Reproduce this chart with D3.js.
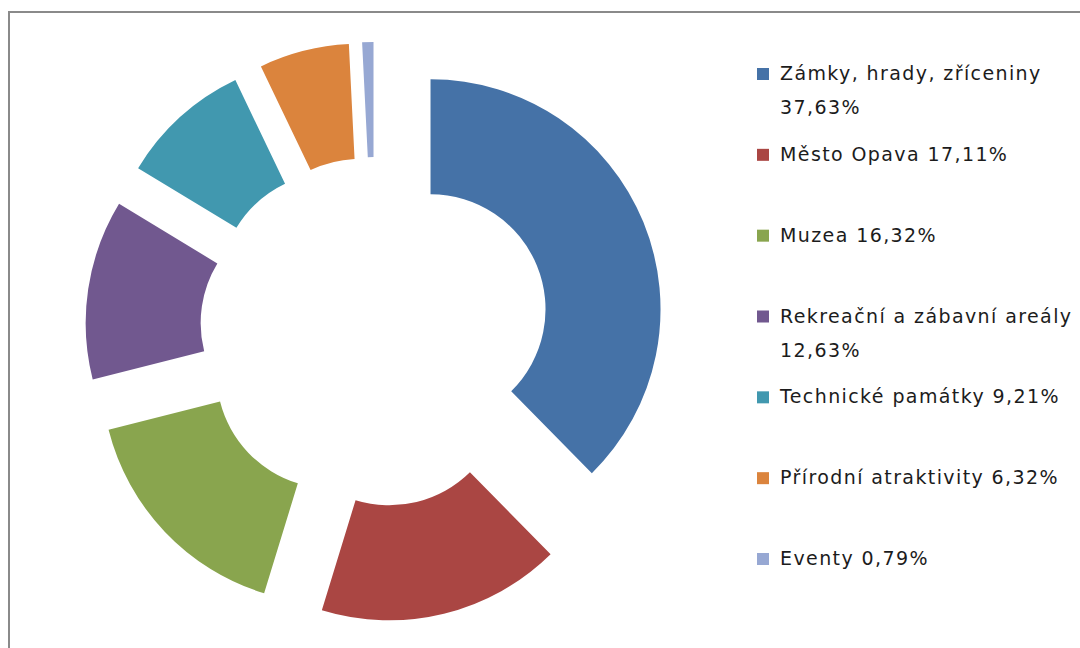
<!DOCTYPE html>
<html>
<head>
<meta charset="utf-8">
<script src="https://cdn.jsdelivr.net/npm/d3@7"></script>
<style>
  html, body { margin: 0; padding: 0; background: #ffffff; }
  svg { display: block; }
</style>
</head>
<body>
<svg id="chart" width="1080" height="648"></svg>
<script>
// Data: share of visited attraction types (percent)
const categories = [
  "Zámky, hrady, zříceniny",
  "Město Opava",
  "Muzea",
  "Rekreační a zábavní areály",
  "Technické památky",
  "Přírodní atraktivity",
  "Eventy"
];
const values = [37.63, 17.11, 16.32, 12.63, 9.21, 6.32, 0.79];
const valueLabels = ["37,63%", "17,11%", "16,32%", "12,63%", "9,21%", "6,32%", "0,79%"];
const colors = ["#4572A7", "#AA4643", "#89A54E", "#71588F", "#4198AF", "#DB843D", "#97A8D3"];

// Layout
const W = 1080, H = 648;
const cx = 375, cy = 332;
const outerR = 230, innerR = 115;
const explode = 60;

const svg = d3.select("#chart");

// chart frame (runs off the right and bottom edges)
svg.append("rect")
  .attr("x", 9).attr("y", 12)
  .attr("width", W + 40).attr("height", H + 40)
  .attr("fill", "#ffffff")
  .attr("stroke", "#8a8a8a")
  .attr("stroke-width", 2);

const pie = d3.pie().sort(null).value(d => d).startAngle(0).endAngle(2 * Math.PI);
const arcs = pie(values);
const arc = d3.arc().innerRadius(innerR).outerRadius(outerR);

const g = svg.append("g").attr("transform", `translate(${cx},${cy})`);

g.selectAll("path.slice")
  .data(arcs)
  .join("path")
  .attr("class", "slice")
  .attr("d", arc)
  .attr("fill", (d, i) => colors[i])
  .attr("transform", d => {
    const a = (d.startAngle + d.endAngle) / 2;
    return `translate(${Math.sin(a) * explode},${-Math.cos(a) * explode})`;
  });

// Legend
const legendX = 757;
const textX = 780;
const firstBaseline = 80;
const lastBaseline = 565;
const lineH = 34;
const maxTextW = 300;
const slot = (lastBaseline - firstBaseline) / (categories.length - 1);
const fontFamily = "'DejaVu Sans', Verdana, sans-serif";
const fontSize = 19;

const legend = svg.append("g");

categories.forEach((c, i) => {
  const base = firstBaseline + i * slot;
  const full = c + " " + valueLabels[i];
  const words = full.split(" ");

  const t = legend.append("text")
    .attr("x", textX)
    .attr("y", base)
    .attr("font-family", fontFamily)
    .attr("font-size", fontSize)
    .attr("letter-spacing", 1.4)
    .attr("fill", "#1c1c1c");

  // greedy word wrap
  let line = [];
  let lineNo = 0;
  let tspan = t.append("tspan").attr("x", textX).attr("y", base);
  words.forEach(w => {
    line.push(w);
    tspan.text(line.join(" "));
    if (tspan.node().getComputedTextLength() > maxTextW && line.length > 1) {
      line.pop();
      tspan.text(line.join(" "));
      line = [w];
      lineNo += 1;
      tspan = t.append("tspan").attr("x", textX).attr("y", base + lineNo * lineH).text(w);
    }
  });

  legend.append("rect")
    .attr("x", legendX)
    .attr("y", base - 12)
    .attr("width", 12)
    .attr("height", 12)
    .attr("fill", colors[i]);
});
</script>
</body>
</html>
